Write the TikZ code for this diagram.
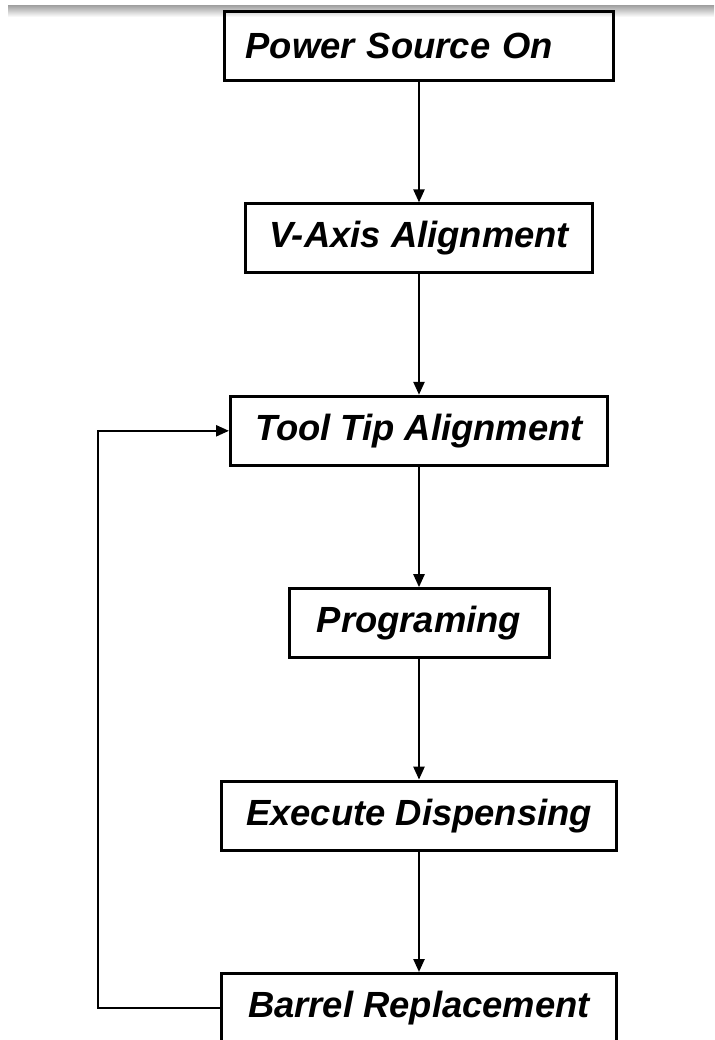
\documentclass[tikz,border=0pt]{standalone}
\usepackage{fontspec}
\setmainfont{Liberation Sans}
\usetikzlibrary{arrows.meta, positioning}

\begin{document}
\begin{tikzpicture}[
            node distance=60.2pt,
            font=\fontsize{18.2}{22}\selectfont\bfseries\itshape,
            >={Triangle[length=6.5pt, width=5.5pt]},
            % Styles
            stepbox/.style={rectangle, draw, line width=1.5pt, minimum height=34.5pt, align=center},
            flow/.style={line width=1.2pt, ->}
        ]
        \useasboundingbox (0,0) rectangle (357pt,-520pt);
        \shade[top color=black!38, bottom color=white] (4pt,-2.5pt) rectangle (357pt,-8.5pt);

        % --- MAIN COLUMN: Top to Bottom ---
        \node (power) [stepbox, minimum width=194.5pt, text width=173.5pt, inner xsep=10.5pt, align=left] at (209.5pt,-23pt) {Power Source On};
        \node (vaxis) [stepbox, minimum width=173.5pt, below=of power] {V-Axis Alignment};
        \node (tooltip) [stepbox, minimum width=188.5pt, below=of vaxis] {Tool Tip Alignment};
        \node (prog) [stepbox, minimum width=130pt, below=of tooltip] {Programing};
        \node (exec) [stepbox, minimum width=197.5pt, below=of prog] {Execute Dispensing};
        \node (barrel) [stepbox, minimum width=197.5pt, below=of exec] {Barrel Replacement};

        % --- MAIN FLOW CONNECTIONS ---
        \draw [flow] (power) -- (vaxis);
        \draw [flow] (vaxis) -- (tooltip);
        \draw [flow] (tooltip) -- (prog);
        \draw [flow] (prog) -- (exec);
        \draw [flow] (exec) -- (barrel);

        % --- LOOP BACK: Left -> Up -> Right ---
        \draw [flow] (barrel.west) -- ++(-61pt,0) |- (tooltip.west);

        \end{tikzpicture}
\end{document}
